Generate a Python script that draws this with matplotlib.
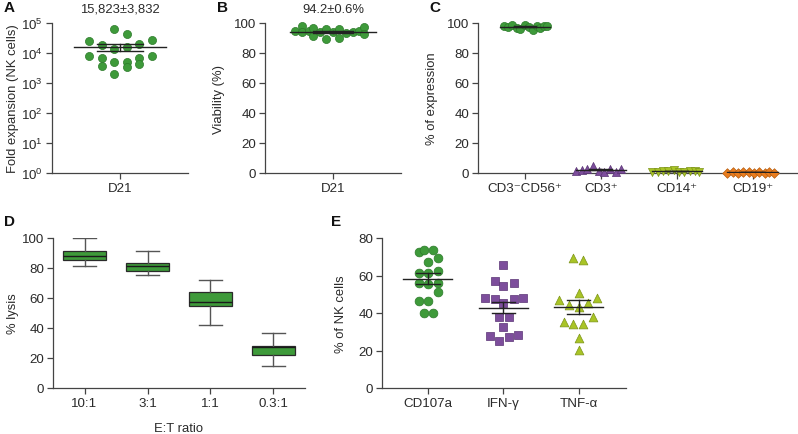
import numpy as np
import matplotlib
matplotlib.use("Agg")
import matplotlib.pyplot as plt
from matplotlib.ticker import LogLocator, NullLocator

plt.rcParams['font.family'] = ['Liberation Sans', 'DejaVu Sans']
plt.rcParams['mathtext.fontset'] = 'custom'
plt.rcParams['mathtext.rm'] = 'Liberation Sans'
plt.rcParams['mathtext.it'] = 'Liberation Sans:italic'
plt.rcParams['font.size'] = 10

# ---- data ----
# A: fold expansion at D21
a_values = [63000, 43000, 25000, 27000, 18500, 20000, 13500, 16000, 8000,
            8000, 6800, 6800, 5000, 5000, 3400, 3700, 4300, 2000]
a_jitter = [-0.09, 0.10, -0.46, 0.47, -0.26, 0.28, -0.09, 0.10, -0.46,
            0.47, -0.26, 0.28, -0.09, 0.10, 0.10, -0.26, 0.28, -0.09]
a_title = "15,823\u00b13,832"

# B: viability at D21
b_values = [94.4, 97.8, 93.8, 94.6, 96.7, 91.3, 93.8, 96.0, 89.5, 94.2,
            96.0, 90.2, 93.5, 93.8, 94.5, 97.3, 92.5]
b_jitter = [-0.56, -0.46, -0.46, -0.36, -0.29, -0.29, -0.19, -0.10, -0.10, 0.0,
            0.09, 0.09, 0.19, 0.29, 0.38, 0.46, 0.46]
b_title = "94.2\u00b10.6%"

# C: phenotype
c_labels = ['CD3\u207bCD56\u207a', 'CD3\u207a', 'CD14\u207a', 'CD19\u207a']
c_values = [
    [98.2, 97.6, 98.5, 97.0, 96.0, 98.4, 97.2, 95.5, 98.0, 96.8, 98.3, 97.9],
    [1.2, 2.0, 3.0, 5.0, 1.5, 1.0, 2.5, 1.0, 2.8],
    [1.0, 0.8, 1.5, 1.2, 2.0, 1.0, 0.7, 1.3, 1.1, 0.9],
    [0.3, 0.5, 0.2, 0.8, 0.4, 0.3, 0.6, 0.2, 0.4, 0.3],
]
c_jitter = [
    [-0.28, -0.22, -0.17, -0.11, -0.06, 0.0, 0.05, 0.10, 0.16, 0.20, 0.25, 0.29],
    [-0.33, -0.25, -0.18, -0.10, -0.03, 0.04, 0.12, 0.20, 0.27],
    [-0.32, -0.25, -0.18, -0.11, -0.04, 0.03, 0.10, 0.17, 0.24, 0.30],
    [-0.33, -0.26, -0.19, -0.12, -0.05, 0.02, 0.09, 0.16, 0.22, 0.28],
]

# D: cytotoxicity box plot
d_labels = ['10:1', '3:1', '1:1', '0.3:1']
d_whislo = [81.5, 75.1, 42.0, 14.9]
d_q1 = [85.5, 78.2, 54.5, 22.0]
d_med = [87.8, 81.1, 57.5, 27.1]
d_q3 = [91.6, 83.3, 64.2, 28.2]
d_whishi = [100.0, 91.1, 72.0, 36.7]

# E: degranulation / cytokines
e_labels = ['CD107a', 'IFN-\u03b3', 'TNF-\u03b1']
e_values = [
    [72.4, 73.6, 73.4, 67.2, 69.3, 61.5, 61.5, 62.2, 56.2, 55.5, 56.2, 51.4,
     46.2, 46.2, 40.2, 40.2],
    [65.6, 57.2, 54.6, 55.8, 48.0, 47.5, 45.3, 47.5, 48.0, 38.0, 38.0, 32.4,
     27.9, 25.2, 27.0, 28.3],
    [69.2, 68.3, 46.9, 50.5, 44.3, 43.0, 45.2, 48.2, 38.0, 35.4, 34.1, 34.1,
     26.5, 20.3],
]
e_jitter = [
    [-0.125, -0.058, 0.066, 0.0, 0.127, -0.125, 0.0, 0.127, -0.125, 0.0, 0.127,
     0.127, -0.125, 0.0, -0.058, 0.066],
    [0.0, -0.115, 0.0, 0.137, -0.248, -0.115, 0.0, 0.137, 0.262, -0.053, 0.07,
     0.0, -0.182, -0.053, 0.07, 0.195],
    [-0.072, 0.061, -0.258, 0.0, -0.125, 0.0, 0.124, 0.247, 0.186, -0.195,
     -0.072, 0.061, 0.0, 0.0],
]

GREEN = '#3e9a3a'
PURPLE = '#7d4e9c'
LIME = '#a9c426'
ORANGE = '#e97d1e'
AXC = '#444444'
TXT = '#2a2a2a'
LBL = 9.4
TCK = 9.6

W, H = 798, 435
fig = plt.figure(figsize=(W / 100, H / 100), dpi=100)


def px_axes(l, t, r, b):
    ax = fig.add_axes([l / W, 1 - b / H, (r - l) / W, (b - t) / H])
    for s in ['top', 'right']:
        ax.spines[s].set_visible(False)
    for s in ['left', 'bottom']:
        ax.spines[s].set_color(AXC)
        ax.spines[s].set_linewidth(0.9)
    ax.tick_params(length=4, width=0.9, color=AXC, labelcolor=TXT,
                   labelsize=TCK, pad=2.5)
    return ax


def mean_sem(ax, x, vals, half, cap):
    vals = np.asarray(vals, dtype=float)
    m = vals.mean()
    s = vals.std(ddof=1) / np.sqrt(len(vals))
    ax.plot([x - half, x + half], [m, m], color='#222222', lw=1.0, zorder=4)
    ax.plot([x, x], [m - s, m + s], color='#222222', lw=1.0, zorder=4)
    ax.plot([x - cap, x + cap], [m + s, m + s], color='#222222', lw=1.0, zorder=4)
    ax.plot([x - cap, x + cap], [m - s, m - s], color='#222222', lw=1.0, zorder=4)


def dots(ax, x, jit, vals, marker, color, edge, s=34):
    ax.scatter(np.array(jit) + x, vals, s=s, marker=marker, color=color,
               edgecolor=edge, linewidth=0.5, zorder=3, clip_on=False)


# ---- A ----
axA = px_axes(52, 24, 188, 174)
axA.set_yscale('log')
axA.set_ylim(1, 1e5)
axA.yaxis.set_major_locator(LogLocator(base=10, numticks=10))
axA.yaxis.set_minor_locator(NullLocator())
axA.set_xlim(-1, 1)
dots(axA, 0, a_jitter, a_values, 'o', GREEN, '#2c7a2a')
mean_sem(axA, 0, a_values, 0.67, 0.34)
axA.set_xticks([0])
axA.set_xticklabels(['D21'])
axA.set_ylabel('Fold expansion (NK cells)', fontsize=LBL, labelpad=1.5, color=TXT)
axA.set_title(a_title, fontsize=9.4, pad=8, color=TXT)

# ---- B ----
axB = px_axes(265, 24, 401, 174)
axB.set_ylim(0, 100)
axB.set_xlim(-1, 1)
axB.set_yticks([0, 20, 40, 60, 80, 100])
dots(axB, 0, b_jitter, b_values, 'o', GREEN, '#2c7a2a')
mean_sem(axB, 0, b_values, 0.63, 0.30)
axB.set_xticks([0])
axB.set_xticklabels(['D21'])
axB.set_ylabel('Viability (%)', fontsize=LBL, labelpad=6.5, color=TXT)
axB.set_title(b_title, fontsize=9.4, pad=8, color=TXT)

# ---- C ----
axC = px_axes(478, 24, 798, 174)
axC.set_ylim(0, 100)
axC.set_xlim(-0.62, 3.6)
axC.set_yticks([0, 20, 40, 60, 80, 100])
c_styles = [('o', GREEN, '#2c7a2a'), ('^', PURPLE, '#5a3475'),
            ('v', LIME, '#7c9418'), ('D', ORANGE, '#b55c10')]
for i, (vals, jit, st) in enumerate(zip(c_values, c_jitter, c_styles)):
    dots(axC, i, jit, vals, st[0], st[1], st[2], s=34 if st[0] != 'D' else 24)
    mean_sem(axC, i, vals, 0.33, 0.15)
axC.set_xticks(range(4))
axC.set_xticklabels(c_labels)
axC.set_ylabel('% of expression', fontsize=LBL, labelpad=6.5, color=TXT)

# ---- D ----
axD = px_axes(53, 239, 305, 389)
stats = []
for lab, lo, q1, md, q3, hi in zip(d_labels, d_whislo, d_q1, d_med, d_q3, d_whishi):
    stats.append(dict(label=lab, whislo=lo, q1=q1, med=md, q3=q3, whishi=hi,
                      fliers=[]))
axD.bxp(stats, positions=range(4), widths=0.667, capwidths=0.38,
        patch_artist=True, showfliers=False,
        boxprops=dict(facecolor=GREEN, edgecolor='#2a2a2a', linewidth=0.9),
        medianprops=dict(color='#1a1a1a', linewidth=1.0),
        whiskerprops=dict(color='#555555', linewidth=1.0),
        capprops=dict(color='#555555', linewidth=1.0))
axD.set_ylim(0, 100)
axD.set_xlim(-0.5, 3.5)
axD.set_yticks([0, 20, 40, 60, 80, 100])
axD.set_xticks(range(4))
axD.set_xticklabels(d_labels)
axD.set_xlabel('E:T ratio', fontsize=LBL, labelpad=9, color=TXT)
axD.set_ylabel('% lysis', fontsize=LBL, labelpad=2, color=TXT)

# ---- E ----
axE = px_axes(382, 239, 626, 389)
axE.set_ylim(0, 80)
axE.set_xlim(-0.61, 2.63)
axE.set_yticks([0, 20, 40, 60, 80])
e_styles = [('o', GREEN, '#2c7a2a', 40), ('s', PURPLE, '#5a3475', 30),
            ('^', LIME, '#7c9418', 40)]
for i, (vals, jit, st) in enumerate(zip(e_values, e_jitter, e_styles)):
    dots(axE, i, jit, vals, st[0], st[1], st[2], s=st[3])
    mean_sem(axE, i, vals, 0.325, 0.155)
axE.set_xticks(range(3))
axE.set_xticklabels(e_labels)
axE.set_ylabel('% of NK cells', fontsize=LBL, labelpad=8, color=TXT)

# panel letters
for lab, x, y in [('A', 4, 8), ('B', 217, 8), ('C', 429, 8), ('D', 4, 222), ('E', 331, 222)]:
    fig.text(x / W, 1 - y / H, lab, fontsize=11, fontweight='bold',
             ha='left', va='center', color='#111111')

fig.savefig('out.png', dpi=100)
